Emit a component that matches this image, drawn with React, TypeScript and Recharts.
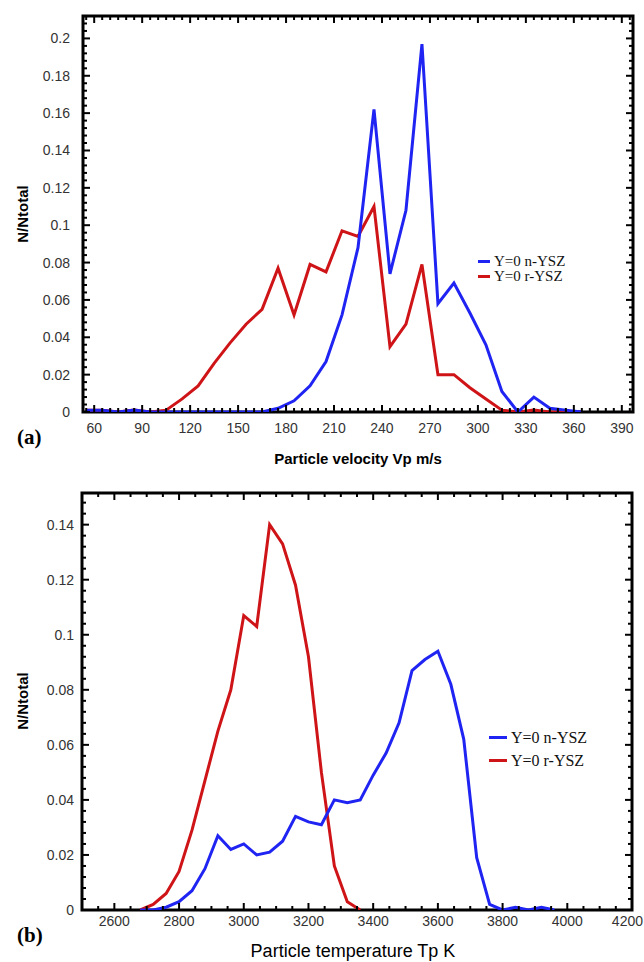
import { Line, LineChart, ReferenceArea, XAxis, YAxis } from "recharts";

const BLUE = "#1f24f2";
const RED = "#cf1418";

// (a) particle velocity, m/s
const velX = [55, 65, 75, 85, 95, 105, 115, 125, 135, 145, 155, 165, 175, 185, 195, 205, 215, 225, 235, 245, 255, 265, 275, 285, 295, 305, 315, 325, 335, 345, 355, 365];
const velNYSZ = [0.001, 0.001, 0, 0.001, 0, 0, 0, 0, 0, 0, 0, 0, 0.002, 0.006, 0.014, 0.027, 0.052, 0.088, 0.162, 0.074, 0.108, 0.197, 0.058, 0.069, 0.053, 0.036, 0.011, 0, 0.008, 0.002, 0.001, 0];
const velRYSZ = [0.001, 0.001, 0, 0.001, 0, 0.001, 0.007, 0.014, 0.026, 0.037, 0.047, 0.055, 0.077, 0.052, 0.079, 0.075, 0.097, 0.094, 0.11, 0.035, 0.047, 0.079, 0.02, 0.02, 0.013, 0.007, 0.001, 0, 0.001, 0, 0, 0];
const velXMajor = [60, 90, 120, 150, 180, 210, 240, 270, 300, 330, 360, 390];
const velYMajor = [0, 0.02, 0.04, 0.06, 0.08, 0.1, 0.12, 0.14, 0.16, 0.18, 0.2];

// (b) particle temperature, K
const tempX = [2680, 2720, 2760, 2800, 2840, 2880, 2920, 2960, 3000, 3040, 3080, 3120, 3160, 3200, 3240, 3280, 3320, 3360, 3400, 3440, 3480, 3520, 3560, 3600, 3640, 3680, 3720, 3760, 3800, 3840, 3880, 3920, 3960];
const tempNYSZ = [0, 0, 0.001, 0.003, 0.007, 0.015, 0.027, 0.022, 0.024, 0.02, 0.021, 0.025, 0.034, 0.032, 0.031, 0.04, 0.039, 0.04, 0.049, 0.057, 0.068, 0.087, 0.091, 0.094, 0.082, 0.062, 0.019, 0.002, 0, 0.001, 0, 0.001, 0];
const tempRYSZ = [0, 0.002, 0.006, 0.014, 0.029, 0.047, 0.065, 0.08, 0.107, 0.103, 0.14, 0.133, 0.118, 0.092, 0.05, 0.016, 0.003, 0, null, null, null, null, null, null, null, null, null, null, null, null, null, null, null];
const tempXMajor = [2600, 2800, 3000, 3200, 3400, 3600, 3800, 4000, 4200];
const tempYMajor = [0, 0.02, 0.04, 0.06, 0.08, 0.1, 0.12, 0.14];

const velData = velX.map((x, i) => ({ x, n: velNYSZ[i], r: velRYSZ[i] }));
const tempData = tempX.map((x, i) => ({ x, n: tempNYSZ[i], r: tempRYSZ[i] }));

function steps(a: number, b: number, step: number) {
  const out: number[] = [];
  const n = Math.round((b - a) / step);
  for (let i = 0; i <= n; i++) out.push(Math.round((a + i * step) * 1e6) / 1e6);
  return out;
}

const isIn = (list: number[], v: number) => list.some((m) => Math.abs(m - v) < 1e-9);
const TICK_FONT = { fontFamily: "'Liberation Sans', Arial, sans-serif", fontSize: 14, fill: "#333" };

interface PanelProps {
  data: { x: number; n: number | null; r: number | null }[];
  top: number;
  height: number;
  margin: { top: number; right: number; bottom: number; left: number };
  yAxisWidth: number;
  xAxisHeight: number;
  xDomain: [number, number];
  yDomain: [number, number];
  xTicks: number[];
  xMajor: number[];
  yTicks: number[];
  yMajor: number[];
  xLabelDy: number;
  yLabelGap: number;
}

function Panel(p: PanelProps) {
  const W = 644;
  const plotW = W - p.margin.left - p.margin.right - p.yAxisWidth;
  const plotH = p.height - p.margin.top - p.margin.bottom - p.xAxisHeight;

  const xTick = (props: any) => {
    const { x, y, payload } = props;
    const v = payload.value;
    const major = isIn(p.xMajor, v);
    const len = major ? 7 : 4;
    // last label sits on the page edge, as in the original figure
    const atEdge = x + 17 > W;
    return (
      <g>
        <line x1={x} x2={x} y1={y} y2={y - len} stroke="#000" strokeWidth={2} />
        <line x1={x} x2={x} y1={y - plotH} y2={y - plotH + len} stroke="#000" strokeWidth={2} />
        {major && (
          <text
            x={atEdge ? W - 1 : x}
            y={y + p.xLabelDy}
            textAnchor={atEdge ? "end" : "middle"}
            dominantBaseline="central"
            {...TICK_FONT}
          >
            {v}
          </text>
        )}
      </g>
    );
  };

  const yTick = (props: any) => {
    const { x, y, payload } = props;
    const v = payload.value;
    const major = isIn(p.yMajor, v);
    const len = major ? 7 : 4;
    return (
      <g>
        <line x1={x} x2={x + len} y1={y} y2={y} stroke="#000" strokeWidth={2} />
        <line x1={x + plotW} x2={x + plotW - len} y1={y} y2={y} stroke="#000" strokeWidth={2} />
        {major && (
          <text x={x - p.yLabelGap} y={y} textAnchor="end" dominantBaseline="central" {...TICK_FONT}>
            {String(v)}
          </text>
        )}
      </g>
    );
  };

  return (
    <div style={{ position: "absolute", left: 0, top: p.top }}>
      <LineChart width={W} height={p.height} data={p.data} margin={p.margin}>
        <XAxis
          dataKey="x"
          type="number"
          domain={p.xDomain}
          allowDataOverflow
          ticks={p.xTicks}
          interval={0}
          tick={xTick}
          tickLine={false}
          axisLine={false}
          tickSize={0}
          tickMargin={0}
          height={p.xAxisHeight}
        />
        <YAxis
          type="number"
          domain={p.yDomain}
          allowDataOverflow
          ticks={p.yTicks}
          interval={0}
          tick={yTick}
          tickLine={false}
          axisLine={false}
          tickSize={0}
          tickMargin={0}
          width={p.yAxisWidth}
        />
        <Line type="linear" dataKey="r" stroke={RED} strokeWidth={3} dot={false} isAnimationActive={false} />
        <Line type="linear" dataKey="n" stroke={BLUE} strokeWidth={3} dot={false} isAnimationActive={false} />
        <ReferenceArea
          x1={p.xDomain[0]}
          x2={p.xDomain[1]}
          y1={p.yDomain[0]}
          y2={p.yDomain[1]}
          fill="none"
          stroke="#000"
          strokeWidth={3}
          ifOverflow="visible"
        />
      </LineChart>
    </div>
  );
}

function LegendBox({ left, top, gap, size, line }: { left: number; top: number; gap: number; size: number; line: number }) {
  const rows = [
    { label: "Y=0 n-YSZ", color: BLUE },
    { label: "Y=0 r-YSZ", color: RED },
  ];
  return (
    <div style={{ position: "absolute", left, top }}>
      {rows.map((r) => (
        <div key={r.label} style={{ display: "flex", alignItems: "center", height: gap, whiteSpace: "nowrap" }}>
          <span style={{ display: "inline-block", width: line, height: 3, background: r.color, marginRight: 4 }} />
          <span style={{ fontFamily: "'Liberation Serif', 'Times New Roman', serif", fontSize: size, color: "#111" }}>{r.label}</span>
        </div>
      ))}
    </div>
  );
}

const sans = "'Liberation Sans', Arial, sans-serif";
const serif = "'Liberation Serif', 'Times New Roman', serif";

export default function App() {
  return (
    <div style={{ position: "absolute", left: 0, top: 0, width: 644, height: 962, background: "#fff", overflow: "hidden" }}>
      <Panel
        data={velData}
        top={0}
        height={470}
        margin={{ top: 16, right: 11, bottom: 0, left: 0 }}
        yAxisWidth={83}
        xAxisHeight={58}
        xDomain={[53, 397]}
        yDomain={[0, 0.212]}
        xTicks={steps(55, 395, 5)}
        xMajor={velXMajor}
        yTicks={steps(0, 0.208, 0.004)}
        yMajor={velYMajor}
        xLabelDy={16}
        yLabelGap={13}
      />
      <Panel
        data={tempData}
        top={470}
        height={492}
        margin={{ top: 23, right: 12, bottom: 0, left: 0 }}
        yAxisWidth={82}
        xAxisHeight={52}
        xDomain={[2500, 4200]}
        yDomain={[0, 0.1515]}
        xTicks={steps(2500, 4200, 50)}
        xMajor={tempXMajor}
        yTicks={steps(0, 0.148, 0.004)}
        yMajor={tempYMajor}
        xLabelDy={11}
        yLabelGap={8}
      />

      <LegendBox left={478} top={254} gap={15} size={15} line={12} />
      <LegendBox left={489} top={726} gap={23} size={16} line={18} />

      <div style={{ position: "absolute", left: 22, top: 214, transform: "translate(-50%, -50%) rotate(-90deg)", fontFamily: sans, fontWeight: "bold", fontSize: 15, whiteSpace: "nowrap" }}>
        N/Ntotal
      </div>
      <div style={{ position: "absolute", left: 22, top: 701, transform: "translate(-50%, -50%) rotate(-90deg)", fontFamily: sans, fontWeight: "bold", fontSize: 15, whiteSpace: "nowrap" }}>
        N/Ntotal
      </div>

      <div style={{ position: "absolute", left: 358, top: 458, transform: "translate(-50%, -50%)", fontFamily: sans, fontWeight: "bold", fontSize: 15, whiteSpace: "nowrap" }}>
        Particle velocity Vp m/s
      </div>
      <div style={{ position: "absolute", left: 353, top: 951, transform: "translate(-50%, -50%)", fontFamily: sans, fontSize: 18, whiteSpace: "nowrap" }}>
        Particle temperature Tp K
      </div>

      <div style={{ position: "absolute", left: 17, top: 437, transform: "translateY(-50%)", fontFamily: serif, fontWeight: "bold", fontSize: 21 }}>(a)</div>
      <div style={{ position: "absolute", left: 17, top: 935, transform: "translateY(-50%)", fontFamily: serif, fontWeight: "bold", fontSize: 21 }}>(b)</div>
    </div>
  );
}
